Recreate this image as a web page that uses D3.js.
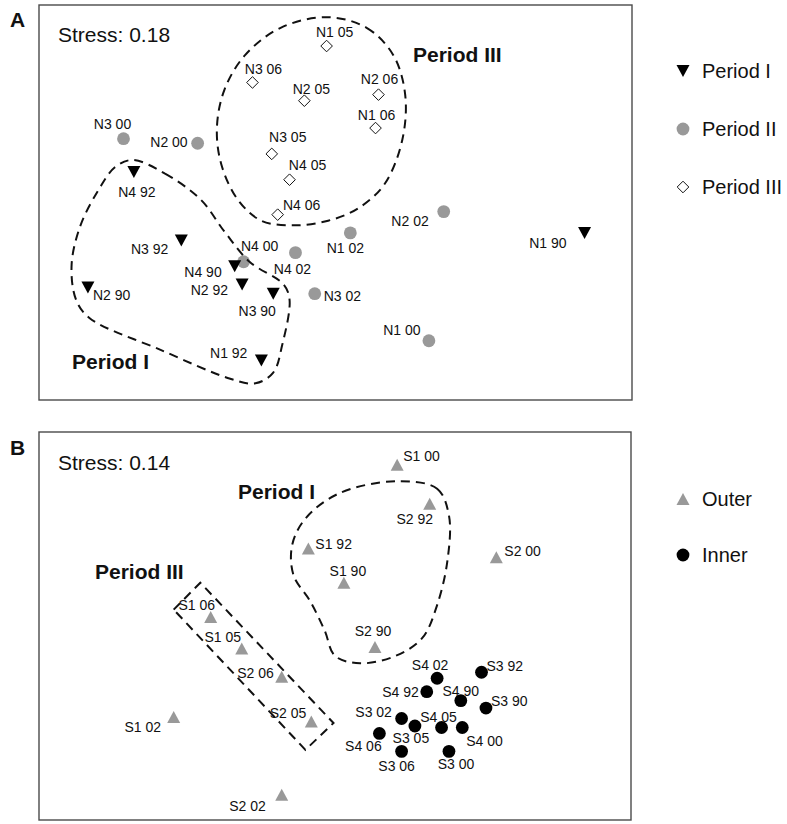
<!DOCTYPE html>
<html>
<head>
<meta charset="utf-8">
<script src="https://cdn.jsdelivr.net/npm/d3@7"></script>
<style>
  html, body { margin: 0; padding: 0; background: #fff; }
  svg { display: block; font-family: "Liberation Sans", Arial, Helvetica, sans-serif; }
</style>
</head>
<body>
<svg id="chart" width="787" height="824"></svg>
<script>
// ---- Panel A: nMDS ordination of N sites by period ----
const periodI = [
  ["N4 92", -1.36, 0.20], ["N3 92", -1.04, -0.25], ["N4 90", -0.68, -0.42],
  ["N2 92", -0.63, -0.54], ["N2 90", -1.67, -0.56], ["N3 90", -0.42, -0.60],
  ["N1 92", -0.50, -1.04], ["N1 90", 1.68, -0.20]
];
const periodII = [
  ["N3 00", -1.43, 0.42], ["N2 00", -0.93, 0.39], ["N2 02", 0.73, -0.06],
  ["N1 02", 0.10, -0.20], ["N4 02", -0.27, -0.33], ["N4 00", -0.62, -0.39],
  ["N3 02", -0.14, -0.60], ["N1 00", 0.63, -0.91]
];
const periodIII = [
  ["N1 05", -0.06, 1.03], ["N3 06", -0.56, 0.79], ["N2 05", -0.21, 0.67],
  ["N2 06", 0.29, 0.71], ["N1 06", 0.27, 0.49], ["N3 05", -0.43, 0.32],
  ["N4 05", -0.31, 0.15], ["N4 06", -0.39, -0.08]
];
const stressA = "Stress: 0.18";
const legendA = ["Period I", "Period II", "Period III"];

// group outlines for panel A (ordination units)
const hullA_III = [
  [-0.06, 1.22], [0.21, 1.15], [0.39, 0.97], [0.47, 0.71], [0.45, 0.41], [0.33, 0.12],
  [0.15, -0.04], [-0.05, -0.12], [-0.27, -0.15], [-0.50, -0.12], [-0.66, 0.02],
  [-0.77, 0.25], [-0.80, 0.49], [-0.75, 0.74], [-0.61, 0.97], [-0.37, 1.15]
];
const hullA_I = [
  [-1.37, 0.28], [-1.15, 0.19], [-0.91, 0.02], [-0.75, -0.19], [-0.58, -0.39],
  [-0.35, -0.54], [-0.31, -0.64], [-0.36, -0.94], [-0.42, -1.12], [-0.54, -1.19],
  [-0.71, -1.16], [-1.18, -0.97], [-1.66, -0.76], [-1.75, -0.64], [-1.78, -0.41],
  [-1.72, -0.15], [-1.60, 0.08], [-1.49, 0.23]
];

// ---- Panel B: nMDS ordination of S sites, outer vs inner ----
const outer = [
  ["S1 00", 0.42, 1.08], ["S2 92", 0.64, 0.82], ["S1 92", -0.18, 0.52],
  ["S1 90", 0.06, 0.29], ["S2 00", 1.09, 0.46], ["S2 90", 0.27, -0.14],
  ["S1 06", -0.84, 0.06], ["S1 05", -0.63, -0.15], ["S2 06", -0.36, -0.34],
  ["S2 05", -0.16, -0.64], ["S1 02", -1.09, -0.61], ["S2 02", -0.36, -1.13]
];
const inner = [
  ["S4 02", 0.69, -0.35], ["S4 92", 0.62, -0.44], ["S4 90", 0.85, -0.50],
  ["S3 92", 0.99, -0.31], ["S3 90", 1.02, -0.55], ["S3 02", 0.45, -0.62],
  ["S3 05", 0.54, -0.67], ["S4 05", 0.72, -0.68], ["S4 00", 0.86, -0.68],
  ["S4 06", 0.30, -0.72], ["S3 06", 0.45, -0.84], ["S3 00", 0.77, -0.84]
];
const stressB = "Stress: 0.14";
const legendB = ["Outer", "Inner"];

const hullB_I = [
  [0.42, 0.97], [0.69, 0.92], [0.77, 0.74], [0.76, 0.44], [0.69, 0.14], [0.59, -0.08],
  [0.41, -0.20], [0.17, -0.25], [0.00, -0.20], [-0.07, -0.03], [-0.17, 0.17],
  [-0.28, 0.34], [-0.29, 0.54], [-0.20, 0.72], [0.03, 0.89]
];
const boxB_III = [[-1.09, 0.11], [-0.91, 0.29], [-0.01, -0.65], [-0.20, -0.83]];

// label placement around each marker: [anchor, dx, dy]
const labelPlacement = {
  "N3 00": ["middle", -11, -15], "N2 00": ["end", -10, -1], "N4 92": ["middle", 3, 20],
  "N3 92": ["end", -13, 8], "N4 90": ["end", -13, 6], "N2 92": ["end", -14, 5],
  "N2 90": ["start", 5, 7], "N3 90": ["middle", -16, 17], "N1 92": ["end", -14, -8],
  "N1 90": ["end", -18, 10], "N2 02": ["end", -15, 9], "N1 02": ["middle", -5, 15],
  "N4 02": ["middle", -3, 16], "N4 00": ["middle", 16, -16], "N3 02": ["start", 9, 2],
  "N1 00": ["middle", -27, -11], "N1 05": ["middle", 8, -14], "N3 06": ["middle", 11, -14],
  "N2 05": ["middle", 7, -12], "N2 06": ["middle", 1, -16], "N1 06": ["middle", 1, -13],
  "N3 05": ["middle", 16, -17], "N4 05": ["middle", 18, -15], "N4 06": ["middle", 24, -10],
  "S1 00": ["start", 6, -9], "S2 92": ["middle", -15, 15], "S1 92": ["start", 7, -4],
  "S1 90": ["middle", 4, -12], "S2 00": ["start", 8, -6], "S2 90": ["middle", -2, -16],
  "S1 06": ["middle", -14, -12], "S1 05": ["middle", -19, -11], "S2 06": ["end", -8, -4],
  "S2 05": ["end", -5, -9], "S1 02": ["middle", -31, 10], "S2 02": ["end", -16, 11],
  "S4 02": ["middle", -7, -13], "S4 92": ["end", -8, 0], "S4 90": ["middle", 0, -10],
  "S3 92": ["start", 5, -6], "S3 90": ["start", 5, -7], "S3 02": ["middle", -28, -7],
  "S3 05": ["middle", -4, 12], "S4 05": ["middle", -3, -11], "S4 00": ["start", 4, 13],
  "S4 06": ["middle", -16, 13], "S3 06": ["middle", -5, 15], "S3 00": ["middle", 7, 13]
};

const GRAY = "#999999";
const svg = d3.select("#chart");

// marker shapes
const shapes = {
  down: "M-6.5,-6L6.5,-6L0,6Z",
  up: "M-6.5,6L6.5,6L0,-6Z",
  diamond: "M0,-5.8L5.8,0L0,5.8L-5.8,0Z"
};
function marker(g, kind, fill, stroke) {
  if (kind === "circle") {
    return g.append("circle").attr("r", 6.4).attr("fill", fill).attr("stroke", stroke || "none");
  }
  return g.append("path").attr("d", shapes[kind]).attr("fill", fill)
    .attr("stroke", stroke || "none").attr("stroke-width", stroke ? 1 : 0);
}

function panel(frame, xDom, yDom) {
  const x = d3.scaleLinear().domain(xDom).range([frame.x0, frame.x1]);
  const y = d3.scaleLinear().domain(yDom).range([frame.y1, frame.y0]);
  svg.append("rect")
    .attr("x", frame.x0).attr("y", frame.y0)
    .attr("width", frame.x1 - frame.x0).attr("height", frame.y1 - frame.y0)
    .attr("fill", "none").attr("stroke", "#4a4a4a").attr("stroke-width", 1.4);
  return { x, y, g: svg.append("g") };
}

function drawSeries(p, rows, kind, fill, stroke) {
  const sel = p.g.append("g").selectAll("g").data(rows).join("g")
    .attr("transform", d => `translate(${p.x(d[1])},${p.y(d[2])})`);
  sel.each(function () { marker(d3.select(this), kind, fill, stroke); });
}

function drawLabels(p, rows) {
  p.g.append("g").selectAll("text").data(rows).join("text")
    .attr("x", d => p.x(d[1]) + labelPlacement[d[0]][1])
    .attr("y", d => p.y(d[2]) + labelPlacement[d[0]][2])
    .attr("dy", "0.36em")
    .attr("text-anchor", d => labelPlacement[d[0]][0])
    .attr("font-size", 14)
    .attr("fill", "#111")
    .text(d => d[0]);
}

function drawOutline(p, pts, curve) {
  const line = d3.line().x(d => p.x(d[0])).y(d => p.y(d[1])).curve(curve);
  p.g.append("path").attr("d", line(pts))
    .attr("fill", "none").attr("stroke", "#111").attr("stroke-width", 2)
    .attr("stroke-dasharray", "9,6");
}

function text(x, y, str, size, weight) {
  svg.append("text").attr("x", x).attr("y", y).attr("font-size", size)
    .attr("font-weight", weight || "normal").attr("fill", "#111").text(str);
}

// ----- Panel A -----
const pA = panel({ x0: 39, y0: 5, x1: 632, y1: 400 }, [-2, 2], [-1.3, 1.3]);
drawSeries(pA, periodII, "circle", GRAY);
drawSeries(pA, periodIII, "diamond", "#fff", "#111");
drawSeries(pA, periodI, "down", "#000");
drawLabels(pA, periodI.concat(periodII, periodIII));
drawOutline(pA, hullA_III, d3.curveCatmullRomClosed.alpha(0.5));
drawOutline(pA, hullA_I, d3.curveCatmullRomClosed.alpha(0.5));

text(10, 27, "A", 21, "bold");
text(58, 42, stressA, 21);
text(413, 62, "Period III", 21, "bold");
text(72, 369, "Period I", 21, "bold");

// legend A
const legAy = [71, 129, 187];
const legAkinds = [["down", "#000"], ["circle", GRAY], ["diamond", "#fff", "#111"]];
legendA.forEach((lab, i) => {
  const g = svg.append("g").attr("transform", `translate(683,${legAy[i]})`);
  marker(g, legAkinds[i][0], legAkinds[i][1], legAkinds[i][2]);
  text(702, legAy[i] + 7, lab, 20);
});

// ----- Panel B -----
const pB = panel({ x0: 39, y0: 432, x1: 631, y1: 820 }, [-2, 2], [-1.3, 1.3]);
drawSeries(pB, outer, "up", GRAY);
drawSeries(pB, inner, "circle", "#000");
drawLabels(pB, outer.concat(inner));
drawOutline(pB, hullB_I, d3.curveCatmullRomClosed.alpha(0.5));
drawOutline(pB, boxB_III, d3.curveLinearClosed);

text(10, 455, "B", 21, "bold");
text(58, 470, stressB, 21);
text(238, 499, "Period I", 21, "bold");
text(95, 579, "Period III", 21, "bold");

// legend B
const legBy = [499, 555];
const legBkinds = [["up", GRAY], ["circle", "#000"]];
legendB.forEach((lab, i) => {
  const g = svg.append("g").attr("transform", `translate(683,${legBy[i]})`);
  marker(g, legBkinds[i][0], legBkinds[i][1]);
  text(702, legBy[i] + 7, lab, 20);
});
</script>
</body>
</html>
